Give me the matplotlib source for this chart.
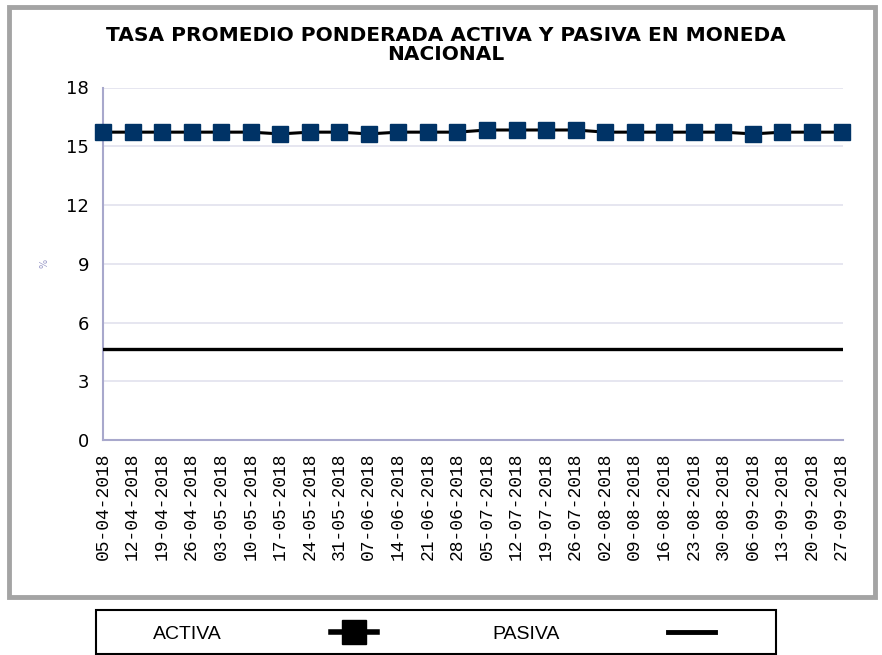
import matplotlib
matplotlib.use('Agg')
from matplotlib import pyplot as plt
from matplotlib.lines import Line2D
from matplotlib.patches import Rectangle

fechas = ['05-04-2018', '12-04-2018', '19-04-2018', '26-04-2018', '03-05-2018',
          '10-05-2018', '17-05-2018', '24-05-2018', '31-05-2018', '07-06-2018',
          '14-06-2018', '21-06-2018', '28-06-2018', '05-07-2018', '12-07-2018',
          '19-07-2018', '26-07-2018', '02-08-2018', '09-08-2018', '16-08-2018',
          '23-08-2018', '30-08-2018', '06-09-2018', '13-09-2018', '20-09-2018',
          '27-09-2018']
activa = [15.72, 15.72, 15.72, 15.72, 15.72, 15.72, 15.63, 15.72, 15.72, 15.63,
          15.72, 15.72, 15.72, 15.83, 15.83, 15.83, 15.83, 15.72, 15.72, 15.72,
          15.72, 15.72, 15.63, 15.72, 15.72, 15.72]
pasiva = [4.64] * 26
yticks = [0, 3, 6, 9, 12, 15, 18]

W, H = 882, 655

fig = plt.figure(figsize=(W / 100, H / 100), dpi=100)
ax = fig.add_axes([103 / W, 1 - 440 / H, 740 / W, 352.5 / H])

xs = list(range(len(fechas)))
ax.plot(xs, pasiva, color='black', lw=2.4, zorder=3)
ax.plot(xs, activa, color='black', lw=2.2, marker='s', markersize=11.5,
        markerfacecolor='#003366', markeredgecolor='#003366', zorder=4, clip_on=False)

ax.set_xlim(0, 25.05)
ax.set_ylim(0, 18)
ax.set_yticks(yticks)
ax.set_xticks(xs)
ax.set_xticklabels(fechas, rotation=90, family=['Liberation Mono', 'DejaVu Sans Mono'],
                   fontsize=13)
ax.set_yticklabels([str(v) for v in yticks], fontsize=13)
ax.tick_params(length=0, pad=10)
ax.tick_params(axis='x', pad=9)
ax.grid(axis='y', color='#E2E2EE', lw=1.2)
ax.set_axisbelow(True)
for s in ['top', 'right']:
    ax.spines[s].set_visible(False)
for s in ['left', 'bottom']:
    ax.spines[s].set_color('#A8A8CC')
    ax.spines[s].set_linewidth(1.5)
ax.set_ylabel('%', color='#9A9AC8', fontsize=7, labelpad=12)

fig.text(0.505, 1 - 26 / H, 'TASA PROMEDIO PONDERADA ACTIVA Y PASIVA EN MONEDA\nNACIONAL',
         ha='center', va='top', fontsize=14.5, fontweight='bold', linespacing=1.0)

# marco gris exterior
fig.patches.append(Rectangle((9 / W, 1 - 597 / H), 866 / W, 590 / H,
                             transform=fig.transFigure, fill=False,
                             edgecolor='#A4A4A4', lw=3.5))

# caja de la leyenda
fig.patches.append(Rectangle((96 / W, 1 - 654 / H), 680 / W, 44 / H,
                             transform=fig.transFigure, fill=False,
                             edgecolor='black', lw=1.5))

handles = [Line2D([], [], color='black', lw=4, marker='s', markersize=17),
           Line2D([], [], color='black', lw=3.5)]
leg = fig.legend(handles, ['ACTIVA', 'PASIVA'], ncol=2, markerfirst=False,
                 loc='center', bbox_to_anchor=(434 / W, 1 - 634 / H),
                 frameon=False,
                 prop={'family': ['Liberation Sans', 'DejaVu Sans'], 'size': 14},
                 handlelength=2.4, handletextpad=5.6, columnspacing=5.9,
                 borderpad=0, borderaxespad=0)

fig.savefig('out.png', dpi=100)
